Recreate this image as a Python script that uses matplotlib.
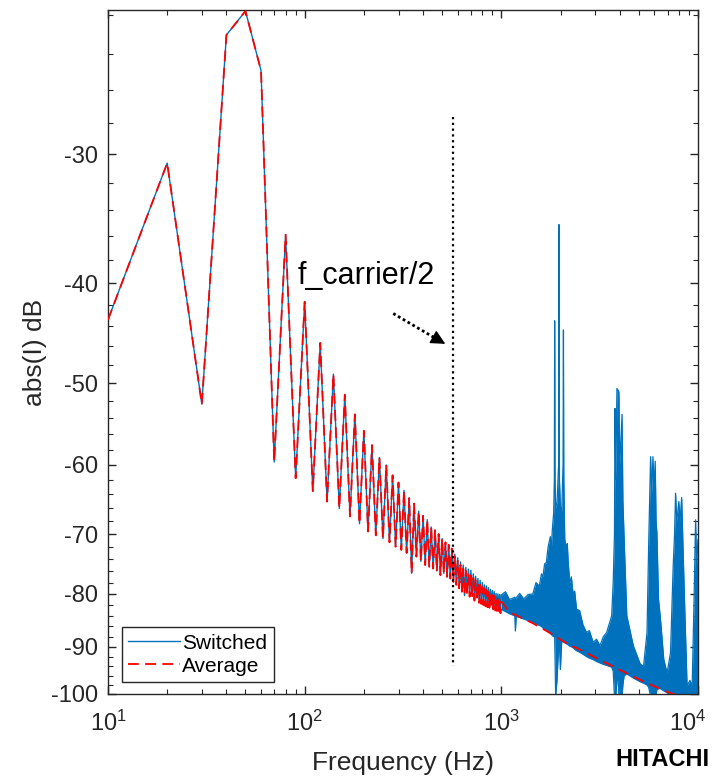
import numpy as np
import matplotlib
matplotlib.use('Agg')
import matplotlib.pyplot as plt
from matplotlib.ticker import FixedLocator, FixedFormatter, LogLocator, NullFormatter
from matplotlib.lines import Line2D
from matplotlib.transforms import ScaledTranslation

plt.rcParams['font.family'] = ['Liberation Sans', 'DejaVu Sans']
plt.rcParams['mathtext.fontset'] = 'custom'
plt.rcParams['mathtext.rm'] = 'Liberation Sans'
plt.rcParams['mathtext.it'] = 'Liberation Sans:italic'
plt.rcParams['mathtext.bf'] = 'Liberation Sans:bold'

# ---------------- data ----------------
bin_freq_hz = list(range(10, 1001, 10))

switched_db = [
    -43.4, -30.6, -52.4, -23.0, -21.8, -24.9, -59.6, -35.9, -61.8, -41.7,
    -63.6, -45.7, -65.1, -49.0, -66.1, -51.3, -67.3, -53.6, -68.4, -55.6,
    -69.6, -57.4, -70.2, -59.0, -70.7, -60.0, -71.3, -61.4, -72.0, -62.4,
    -72.5, -63.5, -73.0, -64.6, -76.4, -65.4, -73.6, -66.5, -74.4, -67.2,
    -75.0, -67.8, -75.3, -68.9, -75.6, -69.4, -76.0, -70.0, -76.7, -70.7,
    -76.4, -71.3, -77.0, -71.7, -77.3, -72.3, -77.6, -73.2, -78.0, -73.8,
    -78.6, -74.5, -79.2, -75.0, -80.3, -75.4, -79.6, -75.7, -80.0, -75.9,
    -80.2, -76.5, -80.6, -76.9, -80.5, -77.3, -81.0, -77.6, -81.3, -78.0,
    -81.2, -78.4, -81.6, -78.6, -82.0, -78.9, -82.0, -79.2, -81.9, -79.4,
    -82.3, -79.6, -82.5, -79.9, -82.6, -80.0, -82.8, -80.1, -83.0, -80.2,
]

average_db = switched_db[:56] + [
    -77.9, -73.6, -78.4, -74.3,
    -79.0, -75.0, -79.6, -75.6, -80.0, -76.0, -80.2, -76.4, -80.5, -76.8,
    -80.8, -77.2, -81.2, -77.6, -81.3, -78.0, -81.6, -78.4, -81.8, -78.8,
    -82.0, -79.0, -82.2, -79.3, -82.4, -79.6, -82.5, -79.9, -82.6, -80.2,
    -82.8, -80.4, -83.0, -80.7, -83.1, -80.9, -83.3, -81.2, -83.5, -81.4,
]

# switched spectrum above 1 kHz: upper / lower envelope of the dense band
hf_freq_hz = [1000, 1050, 1100, 1170, 1179, 1190, 1240, 1300, 1370, 1446,
              1500, 1560, 1600, 1627, 1660, 1693, 1730, 1775, 1795, 1817,
              1845, 1860, 1867, 1875, 1889, 1920, 1955, 1964, 1975, 1996,
              2028, 2060, 2069, 2078, 2101, 2143, 2165, 2185, 2228, 2270,
              2317, 2360, 2413, 2500, 2600, 2714, 2800, 2930, 3050, 3172,
              3300, 3430, 3640, 3705, 3760, 3785, 3820, 3870, 3930, 3960,
              4000, 4110, 4150, 4210, 4345, 4690, 5080, 5285, 5505, 5610,
              5740, 5820, 5900, 5980, 6060, 6120, 6180, 6300, 6440, 6700,
              6960, 7250, 7480, 7600, 7690, 7800, 7990, 8100, 8260, 8420,
              8600, 8800, 9100, 9340, 9550, 9720, 9850, 10000]
hf_upper_db = [-80.2, -79.6, -81.0, -80.6, -80.8, -80.7, -79.9, -80.9, -80.1, -80.0,
               -78.0, -78.6, -76.5, -77.0, -74.8, -74.6, -72.0, -70.4, -72.5, -69.3,
               -66.8, -62.0, -43.5, -62.0, -66.0, -65.2, -60.0, -35.1, -62.0, -65.9,
               -66.5, -60.0, -44.4, -62.0, -70.8, -72.5, -71.5, -74.2, -78.1, -77.0,
               -80.0, -79.5, -82.8, -83.0, -85.7, -87.2, -86.8, -89.1, -88.5, -89.8,
               -88.0, -87.2, -84.0, -78.0, -70.0, -52.9, -62.0, -50.6, -50.8, -51.0,
               -60.0, -53.6, -65.0, -70.6, -84.0, -89.8, -93.5, -94.0, -87.2, -72.0,
               -58.9, -64.0, -58.9, -63.0, -59.5, -68.0, -69.8, -81.0, -84.5, -92.6,
               -95.4, -91.2, -75.1, -70.0, -63.9, -68.0, -65.1, -68.0, -64.5, -73.9,
               -85.0, -98.2, -97.0, -98.2, -81.0, -67.8, -75.0, -70.9]
hf_lower_db = [-82.8, -83.2, -83.6, -84.0, -86.9, -84.1, -84.3, -84.6, -84.9, -85.2,
               -85.5, -85.8, -86.0, -86.3, -86.5, -86.8, -87.0, -87.2, -87.5, -87.8,
               -88.0, -88.0, -88.0, -92.0, -100.5, -96.8, -90.0, -88.5, -90.0, -94.7,
               -88.8, -89.0, -89.0, -89.1, -89.2, -89.4, -89.5, -89.6, -89.9, -90.0,
               -90.2, -90.5, -90.8, -91.1, -91.5, -92.0, -92.3, -92.6, -93.0, -93.3,
               -93.6, -93.8, -94.2, -95.0, -100.5, -100.5, -100.5, -97.0, -97.0, -100.5,
               -100.5, -100.5, -98.0, -96.0, -95.6, -96.5, -97.3, -97.6, -98.0, -98.5,
               -100.5, -100.5, -100.5, -100.5, -100.5, -100.0, -99.0, -98.8, -98.8, -99.3,
               -99.7, -100.5, -100.5, -100.5, -100.5, -100.5, -100.5, -100.5, -100.5, -100.5,
               -100.5, -100.5, -100.5, -100.5, -100.5, -100.5, -100.5, -100.5]

# average spectrum above 1 kHz
avg_hf_freq_hz = [1100, 1250, 1446, 1700, 2143, 2600, 3172, 3800, 4690, 5700, 6960, 7700, 10000]
avg_hf_db = [-83.3, -84.3, -85.4, -86.9, -89.3, -90.9, -92.7, -94.3, -96.2, -97.9, -99.5, -100.2, -101.8]

carrier_half_hz = 570
carrier_line_db = [-27.6, -94.0]
arrow_tail = (282, -42.8)
arrow_head_base = (459, -45.2)
arrow_tip = (519, -45.8)
label_pos = (91.6, -39.4)
y_major_ticks = [-100, -90, -80, -70, -60, -50, -40, -30]
y_minor_ticks = list(range(-100, -21, 2))
x_limits = (10, 10000)
y_limits = (-100, -21.75)

# ---------------- plot ----------------
BLUE = '#0072BD'
RED = '#FF0000'
AXC = '#262626'

fig = plt.figure(figsize=(7.14, 7.80), dpi=100)
ax = fig.add_axes([108 / 714, 1 - 694 / 780, 590 / 714, 684 / 780])


def fwd(y):
    y = np.asarray(y, dtype=float)
    return -np.log10(np.clip(-y, 1e-6, None))


def inv(u):
    return -np.power(10.0, -np.asarray(u, dtype=float))


ax.set_xscale('log')
ax.set_yscale('function', functions=(fwd, inv))

# switched
ax.plot(bin_freq_hz, switched_db, color=BLUE, lw=1.0, zorder=2)
ax.fill_between(hf_freq_hz, hf_lower_db, hf_upper_db, color=BLUE, lw=0, zorder=2)
ax.plot(hf_freq_hz, hf_upper_db, color=BLUE, lw=0.9, zorder=2)
ax.plot(hf_freq_hz, hf_lower_db, color=BLUE, lw=0.9, zorder=2)

# average
avg_f = bin_freq_hz + avg_hf_freq_hz
avg_v = average_db + avg_hf_db
ax.plot(avg_f, avg_v, color=RED, lw=1.3, dashes=(6, 3.5), zorder=3)

# f_carrier/2 marker
ax.plot([carrier_half_hz, carrier_half_hz], carrier_line_db, color='black', lw=1.6,
        linestyle=(0, (1, 1.6)), zorder=4)
ax.text(label_pos[0], label_pos[1], 'f_carrier/2', fontsize=22, ha='left',
        va='center', color='black')
ax.plot([arrow_tail[0], arrow_head_base[0]], [arrow_tail[1], arrow_head_base[1]],
        color='black', lw=2.0, linestyle=(0, (1, 1)), zorder=4)
ax.annotate('', xy=arrow_tip, xytext=arrow_head_base,
            arrowprops=dict(arrowstyle='-|>', lw=1.0, color='black',
                            mutation_scale=22, shrinkA=0, shrinkB=0))

ax.set_xlim(*x_limits)
ax.set_ylim(*y_limits)

ax.yaxis.set_major_locator(FixedLocator(y_major_ticks))
ax.yaxis.set_major_formatter(FixedFormatter([str(v) for v in y_major_ticks]))
ax.yaxis.set_minor_locator(FixedLocator(y_minor_ticks))
ax.yaxis.set_minor_formatter(NullFormatter())
ax.xaxis.set_major_locator(LogLocator(base=10, numticks=10))
ax.xaxis.set_minor_locator(LogLocator(base=10, subs=np.arange(2, 10), numticks=20))
ax.xaxis.set_minor_formatter(NullFormatter())

ax.tick_params(which='both', direction='in', top=True, right=True, colors=AXC,
               labelsize=17)
ax.tick_params(which='major', length=6, width=1.0)
ax.tick_params(which='minor', length=3.5, width=0.8)
ax.tick_params(axis='x', which='major', pad=12)
ax.tick_params(axis='y', which='major', pad=7)
for s in ax.spines.values():
    s.set_color(AXC)
    s.set_linewidth(1.0)

ax.set_xlabel('Frequency (Hz)', fontsize=19, color=AXC, labelpad=11)
ax.set_ylabel('abs(I) dB', fontsize=19, color=AXC, labelpad=3)

handles = [Line2D([], [], color=BLUE, lw=1.0),
           Line2D([], [], color=RED, lw=1.3, dashes=(6, 3.5))]
leg = ax.legend(handles, ['Switched', 'Average'], loc='lower left',
                bbox_to_anchor=(0.0237, 0.0175), borderaxespad=0, fontsize=15,
                frameon=True, fancybox=False, framealpha=1, edgecolor=AXC,
                handlelength=2.5, handletextpad=0.1, borderpad=0.3,
                labelspacing=0.2)
leg.get_frame().set_linewidth(1.0)

fig.text(0.994, 0.026, 'HITACHI', ha='right', va='center', fontsize=17,
         fontweight='bold', color='black')

# keep the last decade label inside the figure (as the reference does)
fig.canvas.draw()
for tick in ax.xaxis.get_major_ticks():
    if abs(tick.get_loc() - x_limits[1]) < 1:
        lab = tick.label1
        lab.set_transform(lab.get_transform() +
                          ScaledTranslation(-10 / 100, 0, fig.dpi_scale_trans))

fig.savefig('out.png', dpi=100)
